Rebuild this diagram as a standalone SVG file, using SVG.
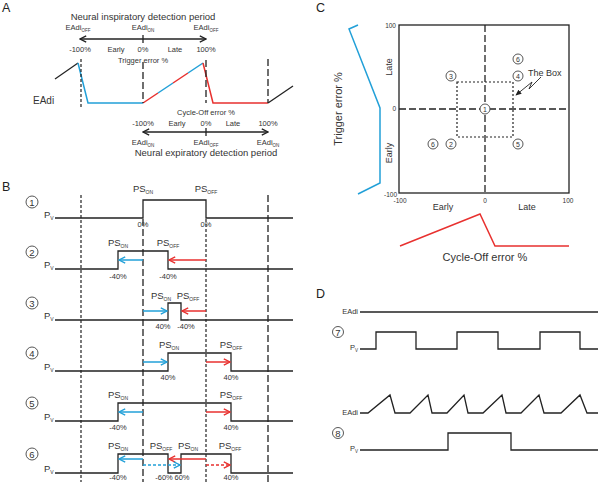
<svg xmlns="http://www.w3.org/2000/svg" width="600" height="482" viewBox="0 0 600 482">
<style>
text{font-family:"Liberation Sans",Arial,sans-serif;fill:#333}
.pl{font-size:12.5px;fill:#222}
.ln{fill:none;stroke:#222;stroke-width:1.3}
.cy{fill:none;stroke:#22a0d8;stroke-width:1.5}
.rd{fill:none;stroke:#e8312f;stroke-width:1.5}
.vs{fill:none;stroke:#222;stroke-width:1.2;stroke-dasharray:3,2}
.vl{fill:none;stroke:#222;stroke-width:1.3;stroke-dasharray:7,3}
.dsh{stroke-dasharray:3,2}
.s7{font-size:7.5px}
.ps{font-size:9.5px}
.c{text-anchor:middle}
.e{text-anchor:end}
.cn{fill:#fff;stroke:#444;stroke-width:0.9}
.cnt{font-size:9.5px;text-anchor:middle}
.cs{font-size:7px;text-anchor:middle}
</style>
<defs>
<marker id="ac" viewBox="0 0 8 8" refX="7.2" refY="4" markerWidth="8" markerHeight="8" markerUnits="userSpaceOnUse" orient="auto"><path d="M1,0.8 L7.2,4 L1,7.2" fill="none" stroke="#22a0d8" stroke-width="1.4" stroke-dasharray="none"/></marker>
<marker id="ar" viewBox="0 0 8 8" refX="7.2" refY="4" markerWidth="8" markerHeight="8" markerUnits="userSpaceOnUse" orient="auto"><path d="M1,0.8 L7.2,4 L1,7.2" fill="none" stroke="#e8312f" stroke-width="1.4" stroke-dasharray="none"/></marker>
<marker id="ak" viewBox="0 0 8 8" refX="7.2" refY="4" markerWidth="8" markerHeight="8" markerUnits="userSpaceOnUse" orient="auto-start-reverse"><path d="M1,0.8 L7.2,4 L1,7.2" fill="none" stroke="#222" stroke-width="1.3"/></marker>
<marker id="akf" viewBox="0 0 8 8" refX="7" refY="4" markerWidth="6" markerHeight="6" markerUnits="userSpaceOnUse" orient="auto"><path d="M0,0.5 L8,4 L0,7.5 Z" fill="#222"/></marker>
</defs>

<!-- Panel A -->
<g id="panelA">
<text x="2" y="12" class="pl">A</text>
<text x="143" y="20" class="c" font-size="9.5">Neural inspiratory detection period</text>
<text x="78" y="30" class="c s7">EAdi<tspan font-size="4.5" dy="1.5">OFF</tspan></text>
<text x="143" y="30" class="c s7">EAdi<tspan font-size="4.5" dy="1.5">ON</tspan></text>
<text x="206" y="30" class="c s7">EAdi<tspan font-size="4.5" dy="1.5">OFF</tspan></text>
<g id="A-insp-arrow">
<line x1="80" y1="39" x2="206" y2="39" class="ln" marker-start="url(#ak)" marker-end="url(#ak)"/>
<line x1="143" y1="35" x2="143" y2="43" class="ln"/>
</g>
<text x="80" y="52" class="c s7">-100%</text>
<text x="116" y="52" class="c s7">Early</text>
<text x="143" y="52" class="c s7">0%</text>
<text x="175" y="52" class="c s7">Late</text>
<text x="206" y="52" class="c s7">100%</text>
<text x="143" y="63" class="c s7">Trigger error %</text>
<text x="33" y="104" font-size="10">EAdi</text>
<g id="A-wave">
<path d="M55,79 L78,63" class="ln"/>
<path d="M78,63 L88,103 L143,103" class="cy"/>
<path d="M143,103 L158,93" class="rd"/>
<path d="M158,93 L173,83" class="cy"/>
<path d="M173,83 L188,73" class="rd"/>
<path d="M188,73 L203,63" class="cy"/>
<path d="M203,63 L213,103 L268,103" class="rd"/>
<path d="M268,103 L293,86" class="ln"/>
</g>
<line x1="81" y1="59" x2="81" y2="107" class="vs"/>
<line x1="143" y1="62" x2="143" y2="103" class="vl"/>
<line x1="206" y1="60" x2="206" y2="103" class="vl"/>
<line x1="268" y1="59" x2="268" y2="103" class="vl"/>
<text x="206" y="115" class="c s7">Cycle-Off error %</text>
<text x="143" y="126" class="c s7">-100%</text>
<text x="177" y="126" class="c s7">Early</text>
<text x="206" y="126" class="c s7">0%</text>
<text x="233" y="126" class="c s7">Late</text>
<text x="268" y="126" class="c s7">100%</text>
<g id="A-exp-arrow">
<line x1="143" y1="132" x2="268" y2="132" class="ln" marker-start="url(#ak)" marker-end="url(#ak)"/>
<line x1="206" y1="128" x2="206" y2="136" class="ln"/>
</g>
<text x="143" y="145" class="c s7">EAdi<tspan font-size="4.5" dy="1.5">ON</tspan></text>
<text x="206" y="145" class="c s7">EAdi<tspan font-size="4.5" dy="1.5">OFF</tspan></text>
<text x="268" y="145" class="c s7">EAdi<tspan font-size="4.5" dy="1.5">ON</tspan></text>
<text x="206" y="156" class="c" font-size="9.5">Neural expiratory detection period</text>
</g>

<!-- Panel B -->
<g id="panelB">
<text x="2" y="191" class="pl">B</text>
<g id="B-guides">
<line x1="81" y1="195" x2="81" y2="482" class="vs"/>
<line x1="143" y1="219" x2="143" y2="482" class="vl"/>
<line x1="206" y1="219" x2="206" y2="482" class="vs"/>
<line x1="268" y1="195" x2="268" y2="482" class="vl"/>
</g>

<g id="row1">
<circle cx="32" cy="202" r="6" class="cn"/><text x="32" y="205.5" class="cnt">1</text>
<text x="44" y="218" font-size="9.5">P<tspan font-size="5" dy="1.5">V</tspan></text>
<path d="M55,218 H143 V200 H206 V218 H293" class="ln"/>
<text x="143" y="192" class="c ps">PS<tspan font-size="5" dy="1.5">ON</tspan></text>
<text x="206" y="192" class="c ps">PS<tspan font-size="5" dy="1.5">OFF</tspan></text>
<text x="143" y="227" class="c s7">0%</text>
<text x="206" y="227" class="c s7">0%</text>
</g>

<g id="row2">
<circle cx="32" cy="252" r="6" class="cn"/><text x="32" y="255.5" class="cnt">2</text>
<text x="44" y="268" font-size="9.5">P<tspan font-size="5" dy="1.5">V</tspan></text>
<path d="M55,269 H118 V251 H168 V269 H293" class="ln"/>
<text x="118" y="246" class="c ps">PS<tspan font-size="5" dy="1.5">ON</tspan></text>
<text x="168" y="246" class="c ps">PS<tspan font-size="5" dy="1.5">OFF</tspan></text>
<text x="118" y="279" class="c s7">-40%</text>
<text x="168" y="279" class="c s7">-40%</text>
</g>

<g id="row3">
<circle cx="32" cy="303" r="6" class="cn"/><text x="32" y="306.5" class="cnt">3</text>
<text x="44" y="319" font-size="9.5">P<tspan font-size="5" dy="1.5">V</tspan></text>
<path d="M55,320 H168 V303 H181 V320 H293" class="ln"/>
<text x="161" y="299" class="c ps">PS<tspan font-size="5" dy="1.5">ON</tspan></text>
<text x="188" y="299" class="c ps">PS<tspan font-size="5" dy="1.5">OFF</tspan></text>
<text x="163" y="329" class="c s7">40%</text>
<text x="186" y="329" class="c s7">-40%</text>
</g>

<g id="row4">
<circle cx="32" cy="353" r="6" class="cn"/><text x="32" y="356.5" class="cnt">4</text>
<text x="44" y="370" font-size="9.5">P<tspan font-size="5" dy="1.5">V</tspan></text>
<path d="M55,371 H168 V353 H231 V371 H293" class="ln"/>
<text x="169" y="348" class="c ps">PS<tspan font-size="5" dy="1.5">ON</tspan></text>
<text x="231" y="348" class="c ps">PS<tspan font-size="5" dy="1.5">OFF</tspan></text>
<text x="168" y="380" class="c s7">40%</text>
<text x="231" y="380" class="c s7">40%</text>
</g>

<g id="row5">
<circle cx="32" cy="403" r="6" class="cn"/><text x="32" y="406.5" class="cnt">5</text>
<text x="44" y="420" font-size="9.5">P<tspan font-size="5" dy="1.5">V</tspan></text>
<path d="M55,421 H118 V403 H231 V421 H293" class="ln"/>
<text x="118" y="398" class="c ps">PS<tspan font-size="5" dy="1.5">ON</tspan></text>
<text x="231" y="398" class="c ps">PS<tspan font-size="5" dy="1.5">OFF</tspan></text>
<text x="118" y="430" class="c s7">-40%</text>
<text x="231" y="430" class="c s7">40%</text>
</g>

<g id="row6">
<circle cx="32" cy="454" r="6" class="cn"/><text x="32" y="457.5" class="cnt">6</text>
<text x="44" y="472" font-size="9.5">P<tspan font-size="5" dy="1.5">V</tspan></text>
<path d="M55,473 H118 V454 H168 V473 H181 V454 H231 V473 H293" class="ln"/>
<text x="118" y="449" class="c ps">PS<tspan font-size="5" dy="1.5">ON</tspan></text>
<text x="161" y="449" class="c ps">PS<tspan font-size="5" dy="1.5">OFF</tspan></text>
<text x="188" y="449" class="c ps">PS<tspan font-size="5" dy="1.5">ON</tspan></text>
<text x="230" y="449" class="c ps">PS<tspan font-size="5" dy="1.5">OFF</tspan></text>
<text x="118" y="480" class="c s7">-40%</text>
<text x="164" y="480" class="c s7">-60%</text>
<text x="182" y="480" class="c s7">60%</text>
<text x="231" y="480" class="c s7">40%</text>
</g>

<g id="B-connectors">
<line x1="143" y1="260" x2="119" y2="260" class="cy" marker-end="url(#ac)"/>
<line x1="206" y1="260" x2="169" y2="260" class="rd" marker-end="url(#ar)"/>
<line x1="143" y1="311" x2="167" y2="311" class="cy" marker-end="url(#ac)"/>
<line x1="206" y1="311" x2="182" y2="311" class="rd" marker-end="url(#ar)"/>
<line x1="143" y1="362" x2="167" y2="362" class="cy" marker-end="url(#ac)"/>
<line x1="206" y1="362" x2="230" y2="362" class="rd" marker-end="url(#ar)"/>
<line x1="143" y1="412" x2="119" y2="412" class="cy" marker-end="url(#ac)"/>
<line x1="206" y1="412" x2="230" y2="412" class="rd" marker-end="url(#ar)"/>
<line x1="143" y1="459" x2="119" y2="459" class="cy" marker-end="url(#ac)"/>
<line x1="206" y1="459" x2="169" y2="459" class="rd" marker-end="url(#ar)"/>
<line x1="143" y1="465" x2="180" y2="465" class="cy dsh" marker-end="url(#ac)"/>
<line x1="206" y1="465" x2="230" y2="465" class="rd dsh" marker-end="url(#ar)"/>
</g>
</g>

<!-- Panel C -->
<g id="panelC">
<text x="316" y="12" class="pl">C</text>
<rect x="399" y="25" width="170" height="168" fill="none" stroke="#222" stroke-width="1.3"/>
<line x1="485" y1="25" x2="485" y2="193" class="vl" stroke-width="1.5"/>
<line x1="399" y1="109" x2="569" y2="109" class="vl" stroke-width="1.5"/>
<rect x="457" y="82" width="56" height="55" fill="none" stroke="#222" stroke-width="1.2" stroke-dasharray="2,2"/>
<text x="396" y="28" class="e" font-size="6.5">100</text>
<text x="396" y="111" class="e" font-size="6.5">0</text>
<text x="397" y="197" class="e" font-size="6.5">-100</text>
<text x="400" y="203" class="c" font-size="6.5">-100</text>
<text x="485" y="203" class="c" font-size="6.5">0</text>
<text x="568" y="203" class="c" font-size="6.5">100</text>
<text transform="translate(392,67) rotate(-90)" class="c" font-size="9">Late</text>
<text transform="translate(392,153) rotate(-90)" class="c" font-size="9">Early</text>
<text x="443" y="210" class="c" font-size="9">Early</text>
<text x="527" y="210" class="c" font-size="9">Late</text>
<text transform="translate(342,109) rotate(-90)" class="c" font-size="11">Trigger error %</text>
<text x="485" y="261" class="c" font-size="11">Cycle-Off error %</text>
<g id="C-points">
<circle cx="451" cy="76" r="5" class="cn"/><text x="451" y="78.5" class="cs">3</text>
<circle cx="518" cy="59" r="5" class="cn"/><text x="518" y="61.5" class="cs">6</text>
<circle cx="518" cy="76" r="5" class="cn"/><text x="518" y="78.5" class="cs">4</text>
<circle cx="485" cy="109" r="5" class="cn"/><text x="485" y="111.5" class="cs">1</text>
<circle cx="433" cy="144" r="5" class="cn"/><text x="433" y="146.5" class="cs">6</text>
<circle cx="451" cy="144" r="5" class="cn"/><text x="451" y="146.5" class="cs">2</text>
<circle cx="518" cy="144" r="5" class="cn"/><text x="518" y="146.5" class="cs">5</text>
</g>
<text x="528" y="76" font-size="9">The Box</text>
<path d="M541,77 L529,89 L532,82 L516,95" fill="none" stroke="#222" stroke-width="0.9" marker-end="url(#akf)"/>
<path d="M358,25 L349,29 L380,108 L380,183 L358,194" class="cy"/>
<path d="M400,246 L480,214 L495,246 L569,246" class="rd"/>
</g>

<!-- Panel D -->
<g id="panelD">
<text x="316" y="298" class="pl">D</text>
<g id="D7">
<text x="358" y="314" class="e s7">EAdi</text>
<path d="M360,312 H598" class="ln"/>
<circle cx="338" cy="332" r="5.5" class="cn"/><text x="338" y="335.5" class="cnt">7</text>
<text x="358" y="350" class="e s7">P<tspan font-size="4.5" dy="1.5">V</tspan></text>
<path d="M360,349 H376 V332 H416 V349 H457 V332 H498 V349 H540 V332 H580 V349 H598" class="ln"/>
</g>
<g id="D8">
<text x="358" y="415" class="e s7">EAdi</text>
<path d="M360,413 H368 L390,395 L395,413 H410 L428,395 L432,413 H447 L464,395 L468,413 H483 L502,395 L506,413 H521 L539,395 L544,413 H561 L580,395 L587,413 H598" class="ln"/>
<circle cx="338" cy="433" r="5.5" class="cn"/><text x="338" y="436.5" class="cnt">8</text>
<text x="358" y="451" class="e s7">P<tspan font-size="4.5" dy="1.5">V</tspan></text>
<path d="M360,450 H448 V433 H511 V450 H598" class="ln"/>
</g>
</g>
</svg>
